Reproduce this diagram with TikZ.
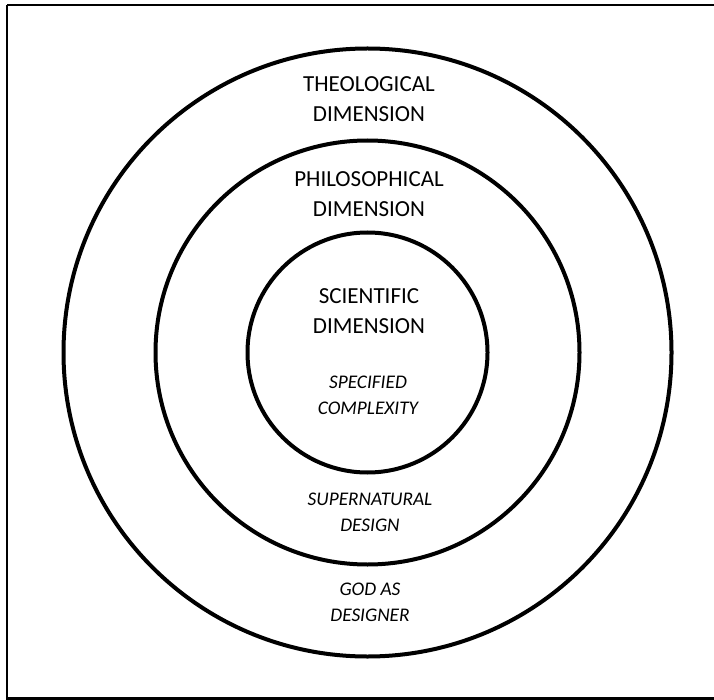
\documentclass[tikz,border=0pt]{standalone}
\usepackage{fontspec}
\setmainfont{Carlito}
\begin{document}
\begin{tikzpicture}[x=1pt,y=-1pt,
  ring/.style={draw=black,line width=4pt},
  head/.style={align=center,font=\fontsize{23}{30}\selectfont,inner sep=0pt,anchor=base},
  note/.style={align=center,font=\fontsize{19.3}{25.5}\selectfont\itshape,inner sep=0pt,anchor=base}]
  \useasboundingbox (0,0) rectangle (714,700);
  % page frame (right side runs off the edge)
  \draw[line width=2.2pt] (7,5) -- (720,5);
  \draw[line width=2.2pt] (7,5) -- (7,698.5) -- (720,698.5);
  % concentric dimensions
  \coordinate (c) at (367.5,352.5);
  \draw[ring] (c) circle[radius=304];
  \draw[ring] (c) circle[radius=212];
  \draw[ring] (c) circle[radius=120];
  % labels (anchored on the baseline of their last line)
  \node[head] (theo) at (369,122) {THEOLOGICAL\\DIMENSION};
  \node[head] (phil) at (369,217) {PHILOSOPHICAL\\DIMENSION};
  \node[head] (sci) at (369,333) {SCIENTIFIC\\DIMENSION};
  \node[note] (spec) at (368,414) {SPECIFIED\\COMPLEXITY};
  \node[note] (super) at (370,531) {SUPERNATURAL\\DESIGN};
  \node[note] (god) at (370,621) {GOD AS\\DESIGNER};
\end{tikzpicture}
\end{document}
